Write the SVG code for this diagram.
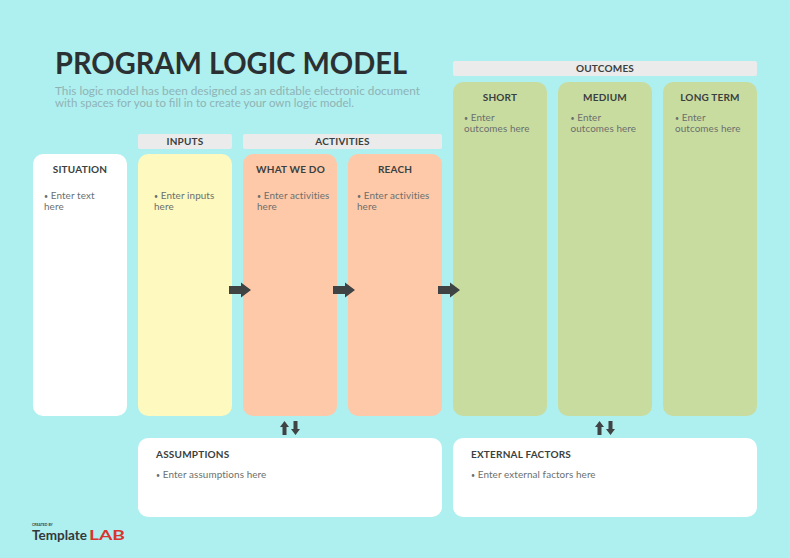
<svg xmlns="http://www.w3.org/2000/svg" width="790" height="558" viewBox="0 0 790 558">
<style>
text{font-family:"Lato","Open Sans","Liberation Sans",sans-serif}
.h{font-size:10px;font-weight:700;fill:#3a3f40;text-anchor:middle;letter-spacing:.2px}
.b{font-size:9.900px;fill:#6a6f6e;letter-spacing:.1px}
.d{font-size:7px}
.band{fill:#ebebeb}
.w{fill:#fff}.y{fill:#fdf9bf}.o{fill:#fec9a9}.g{fill:#c9dca0}
.arr{fill:#3f4343}
</style>
<rect width="790" height="558" fill="#aeefef"/>
<g id="title">
<text x="55" y="74" font-size="29.500" font-weight="700" fill="#2b3133" textLength="352" lengthAdjust="spacingAndGlyphs">PROGRAM LOGIC MODEL</text>
<text x="55" y="95" font-size="11" fill="#8fb3b5" textLength="365" lengthAdjust="spacingAndGlyphs">This logic model has been designed as an editable electronic document</text>
<text x="55" y="107" font-size="11" fill="#8fb3b5" textLength="299" lengthAdjust="spacingAndGlyphs">with spaces for you to fill in to create your own logic model.</text>
</g>
<g id="inputs-header"><rect class="band" x="138" y="134" width="94" height="15" rx="2"/><text class="h" x="185" y="145">INPUTS</text></g>
<g id="activities-header"><rect class="band" x="243" y="134" width="199" height="15" rx="2"/><text class="h" x="342.500" y="145">ACTIVITIES</text></g>
<g id="outcomes-header"><rect class="band" x="453" y="61" width="304" height="15" rx="2"/><text class="h" x="605" y="72">OUTCOMES</text></g>
<g id="situation"><rect class="w" x="33" y="154" width="94" height="262" rx="10"/><text class="h" x="80" y="173">SITUATION</text><text class="b" x="44" y="199"><tspan class="d">•</tspan> Enter text</text><text class="b" x="44" y="210">here</text></g>
<g id="inputs"><rect class="y" x="138" y="154" width="94" height="262" rx="10"/><text class="b" x="154" y="199"><tspan class="d">•</tspan> Enter inputs</text><text class="b" x="154" y="210">here</text></g>
<g id="what-we-do"><rect class="o" x="243" y="154" width="94" height="262" rx="10"/><text class="h" x="290.500" y="173">WHAT WE DO</text><text class="b" x="257" y="199"><tspan class="d">•</tspan> Enter activities</text><text class="b" x="257" y="210">here</text></g>
<g id="reach"><rect class="o" x="348" y="154" width="94" height="262" rx="10"/><text class="h" x="395" y="173">REACH</text><text class="b" x="357" y="199"><tspan class="d">•</tspan> Enter activities</text><text class="b" x="357" y="210">here</text></g>
<g id="short"><rect class="g" x="453" y="82" width="94" height="334" rx="10"/><text class="h" x="500" y="101">SHORT</text><text class="b" x="464" y="121"><tspan class="d">•</tspan> Enter</text><text class="b" x="464" y="132">outcomes here</text></g>
<g id="medium"><rect class="g" x="558" y="82" width="94" height="334" rx="10"/><text class="h" x="605" y="101">MEDIUM</text><text class="b" x="570.500" y="121"><tspan class="d">•</tspan> Enter</text><text class="b" x="570.500" y="132">outcomes here</text></g>
<g id="long-term"><rect class="g" x="663" y="82" width="94" height="334" rx="10"/><text class="h" x="710" y="101">LONG TERM</text><text class="b" x="675" y="121"><tspan class="d">•</tspan> Enter</text><text class="b" x="675" y="132">outcomes here</text></g>
<g id="assumptions"><rect class="w" x="138" y="438" width="304" height="79" rx="10"/><text class="h" x="156" y="458" style="text-anchor:start">ASSUMPTIONS</text><text class="b" x="156" y="478"><tspan class="d">•</tspan> Enter assumptions here</text></g>
<g id="external-factors"><rect class="w" x="453" y="438" width="304" height="79" rx="10"/><text class="h" x="471" y="458" style="text-anchor:start">EXTERNAL FACTORS</text><text class="b" x="471" y="478"><tspan class="d">•</tspan> Enter external factors here</text></g>
<g id="connectors">
<path class="arr" d="M229 286H241V282.500L251 290L241 297.500V294H229Z"/>
<path class="arr" d="M333 286H345V282.500L355 290L345 297.500V294H333Z"/>
<path class="arr" d="M438 286H450V282.500L460 290L450 297.500V294H438Z"/>
<path class="arr" d="M282.500 435V427H280L284.500 421L289 427H286.500V435Z"/>
<path class="arr" d="M293.500 421V429H291L295.500 435L300 429H297.500V421Z"/>
<path class="arr" d="M597.500 435V427H595L599.500 421L604 427H601.500V435Z"/>
<path class="arr" d="M608.500 421V429H606L610.500 435L615 429H612.500V421Z"/>
</g>
<g id="logo">
<text x="32" y="526" font-size="3.500" font-weight="700" fill="#3a3f40">CREATED BY</text>
<text x="32" y="540" font-size="14" font-weight="700" fill="#33393b" textLength="55" lengthAdjust="spacingAndGlyphs">Template</text>
<text x="89" y="540" font-size="14" font-weight="700" fill="#d9342e" textLength="36" lengthAdjust="spacingAndGlyphs">LAB</text>
</g>
</svg>
